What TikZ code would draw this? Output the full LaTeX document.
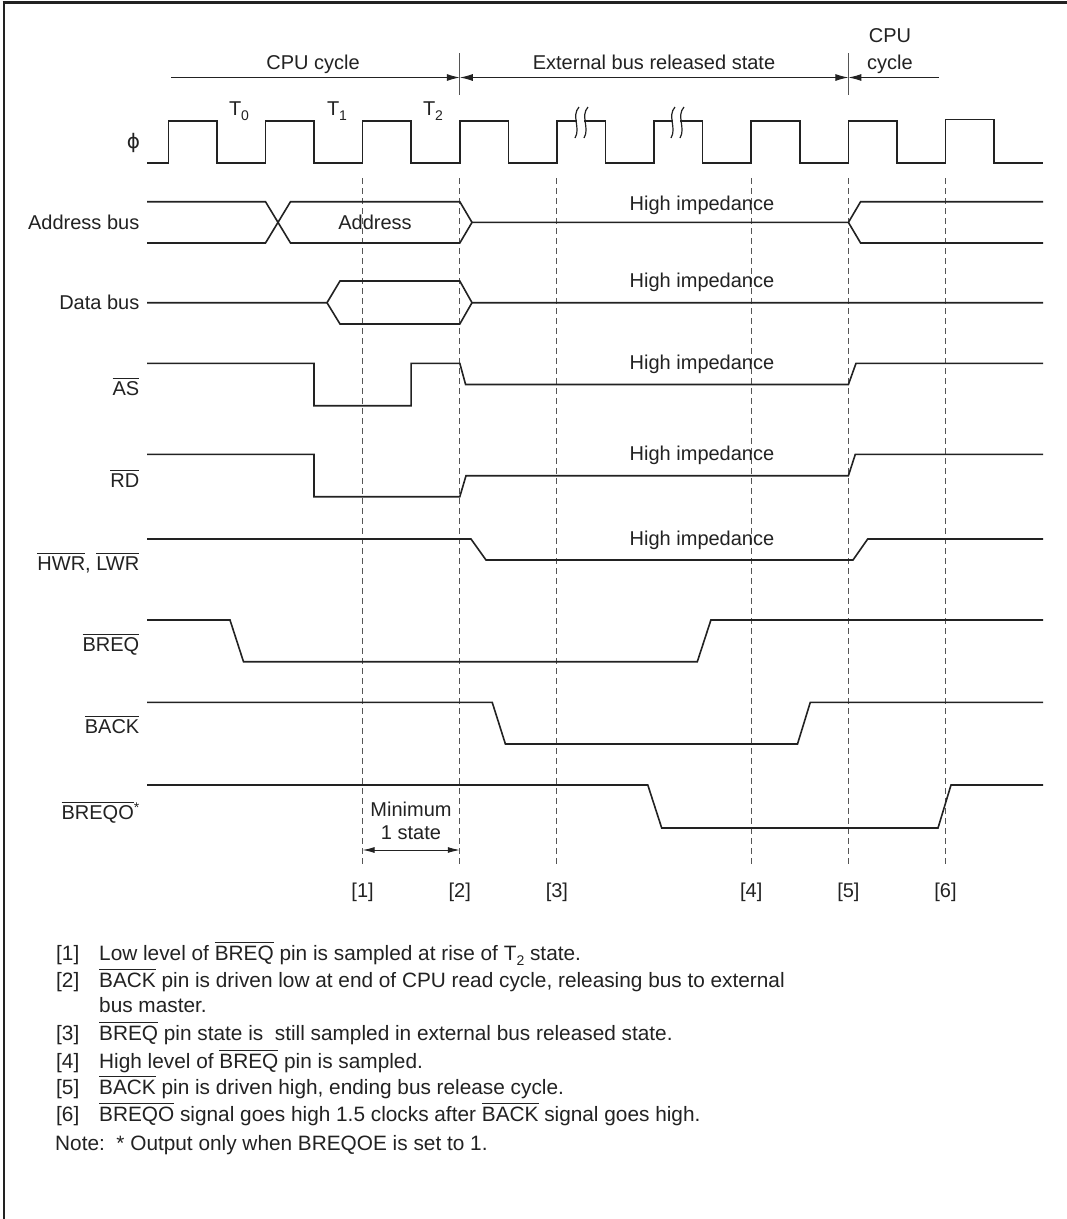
\documentclass[tikz,border=0pt]{standalone}
\usepackage{fontspec}
\setmainfont{Liberation Sans}
\newfontfamily\phifont{DejaVu Sans}
\usetikzlibrary{arrows.meta}
\newcommand{\ovl}[1]{\vbox{\hrule height 1.2pt\kern 2.2pt\hbox{#1}}}
\newcommand{\subs}[1]{\raisebox{-5pt}{\fontsize{14}{14}\selectfont #1}}
\definecolor{ink}{HTML}{222222}
\definecolor{dashc}{HTML}{555555}
\begin{document}
\begin{tikzpicture}[x=1pt,y=-1pt,font=\fontsize{20}{24}\selectfont,
 sig/.style={line width=1.6pt,draw=ink,line join=miter},
 dsh/.style={line width=1pt,draw=dashc,dash pattern=on 6pt off 4pt},
 lbl/.style={anchor=base east,inner sep=0pt,text=ink},
 txt/.style={anchor=base,inner sep=0pt,text=ink},
 lft/.style={anchor=base west,inner sep=0pt,text=ink,font=\fontsize{20.8}{25}\selectfont},
 arr/.style={line width=1pt,draw=ink},
 tickln/.style={line width=1pt,draw=dashc},
 brk/.style={line width=1.2pt,draw=ink}]
\useasboundingbox (0,0) rectangle (1067,1219);
\fill[white] (0,0) rectangle (1067,1219);
% frame
\draw[line width=3pt,ink] (2.5,2.8) -- (1067,2.8);
\draw[line width=2.5pt,ink] (4,1.3) -- (4,1219);

% top phase arrows
\node[txt] (cpu1) at (313,69) {CPU cycle};
\node[txt] (ext) at (654,69) {External bus released state};
\node[txt] (cpu2a) at (890,42) {CPU};
\node[txt] (cpu2b) at (890,69) {cycle};
\draw[tickln] (459.8,53) -- (459.8,95);
\draw[tickln] (848.4,53) -- (848.4,95);
\coordinate (a0) at (171,77.5);
\coordinate (a1) at (459.8,77.5);
\coordinate (a2) at (848.4,77.5);
\coordinate (a3) at (939,77.5);
\draw[arr,-{Latex[length=13pt,width=7pt]}] (a0) -- (a1);
\draw[arr,{Latex[length=13pt,width=7pt]}-{Latex[length=13pt,width=7pt]}] (a1) -- (a2);
\draw[arr,{Latex[length=13pt,width=7pt]}-] (a2) -- (a3);

% T labels and phi
\node[txt] (t0) at (239,115) {T\subs{0}};
\node[txt] (t1) at (337,115) {T\subs{1}};
\node[txt] (t2) at (433,115) {T\subs{2}};
\node[inner sep=0pt,text=ink] (phi) at (133.5,143) {\phifont ϕ};

% dashed reference lines
\foreach \xx/\nm in {362.6/1,459.8/2,556.9/3,751.2/4,848.4/5,945.5/6}{
  \draw[dsh] (\xx,178) -- (\xx,865);
  \node[txt] (m\nm) at (\xx,897) {[\nm]};
}

% clock
\draw[sig] (147,163) -- (168.3,163) -- (168.3,121) -- (216.8,121) -- (216.8,163)
 -- (265.5,163) -- (265.5,121) -- (314.0,121) -- (314.0,163)
 -- (362.6,163) -- (362.6,121) -- (411.1,121) -- (411.1,163)
 -- (459.8,163) -- (459.8,121) -- (508.3,121) -- (508.3,163)
 -- (556.9,163) -- (556.9,121) -- (605.4,121) -- (605.4,163)
 -- (654.1,163) -- (654.1,121) -- (702.6,121) -- (702.6,163)
 -- (751.2,163) -- (751.2,121) -- (799.7,121) -- (799.7,163)
 -- (848.4,163) -- (848.4,121) -- (896.9,121) -- (896.9,163)
 -- (945.5,163) -- (945.5,119.5) -- (994.0,119.5) -- (994.0,163) -- (1043,163);
% break marks
\foreach \bx in {576,672}{
  \fill[white] (\bx+1,117) rectangle (\bx+8,125);
  \draw[brk] (\bx+3,107) .. controls (\bx-5,116) and (\bx+5,128) .. (\bx-1,138);
  \draw[brk] (\bx+12,107) .. controls (\bx+4,116) and (\bx+14,128) .. (\bx+8,138);
}

% signal labels
\node[lbl] (ladr) at (139.5,229) {Address bus};
\node[lbl] (ldat) at (139.5,309.7) {Data bus};
\node[lbl] (las) at (139.5,395) {\ovl{AS}};
\node[lbl] (lrd) at (139.5,487) {\ovl{RD}};
\node[lbl] (lhwr) at (139.5,570) {\ovl{HWR}, \ovl{LWR}};
\node[lbl] (lbreq) at (139.5,651) {\ovl{BREQ}};
\node[lbl] (lback) at (139.5,733) {\ovl{BACK}};
\node[lbl] (lbreqo) at (139.5,819) {\ovl{BREQO}\raisebox{7pt}{\fontsize{14}{14}\selectfont *}};

% address bus
\draw[sig] (147,201.7) -- (265.5,201.7) -- (290.5,243) -- (459.8,243) -- (472,222.4) -- (848.4,222.4) -- (860.6,201.7) -- (1043,201.7);
\draw[sig] (147,243) -- (265.5,243) -- (290.5,201.7) -- (459.8,201.7) -- (472,222.4);
\draw[sig] (848.4,222.4) -- (860.6,243) -- (1043,243);
\node[txt] (adrtxt) at (375,229) {Address};
% data bus
\draw[sig] (147,302.7) -- (327,302.7) -- (340,281) -- (459.8,281) -- (472,302.7) -- (1043,302.7);
\draw[sig] (327,302.7) -- (340,324) -- (459.8,324) -- (472,302.7);
% AS
\draw[sig] (147,363.3) -- (314,363.3) -- (314,405.7) -- (411.1,405.7) -- (411.1,363.3) -- (459.8,363.3) -- (465.6,384.5) -- (848.4,384.5) -- (856,363.3) -- (1043,363.3);
% RD
\draw[sig] (147,454.3) -- (314,454.3) -- (314,496.7) -- (459.8,496.7) -- (466,475.7) -- (848.4,475.7) -- (855.3,454.3) -- (1043,454.3);
% HWR
\draw[sig] (147,539) -- (471,539) -- (486,560) -- (853,560) -- (867.7,539) -- (1043,539);
% BREQ
\draw[sig] (147,620) -- (230,620) -- (243.5,661.7) -- (697.3,661.7) -- (710.9,620) -- (1043,620);
% BACK
\draw[sig] (147,702.3) -- (492.2,702.3) -- (505.4,744) -- (797.5,744) -- (810.3,702.3) -- (1043,702.3);
% BREQO
\draw[sig] (147,785) -- (647.8,785) -- (661.7,828) -- (938,828) -- (951,785) -- (1043,785);

% high impedance labels
\foreach \yy/\nm in {210/a,287/b,369/c,460/d,545/e}{
  \node[txt] (hz\nm) at (702,\yy) {High impedance};
}

% minimum 1 state
\node[txt] (min1) at (411,816) {Minimum};
\node[txt] (min2) at (411,839) {1 state};
\coordinate (ms) at (362.6,850);
\coordinate (me) at (459.8,850);
\draw[arr,{Latex[length=12pt,width=6pt]}-{Latex[length=12pt,width=6pt]}] (ms) -- (me);

% notes
\node[lft] (k1) at (56,960) {[1]};
\node[lft] (n1) at (99,960) {Low level of \ovl{BREQ} pin is sampled at rise of T\subs{2} state.};
\node[lft] (k2) at (56,987) {[2]};
\node[lft] (n2) at (99,987) {\ovl{BACK} pin is driven low at end of CPU read cycle, releasing bus to external};
\node[lft] (n2b) at (99,1012) {bus master.};
\node[lft] (k3) at (56,1040) {[3]};
\node[lft] (n3) at (99,1040) {\ovl{BREQ} pin state is\ \ still sampled in external bus released state.};
\node[lft] (k4) at (56,1068) {[4]};
\node[lft] (n4) at (99,1068) {High level of \ovl{BREQ} pin is sampled.};
\node[lft] (k5) at (56,1094) {[5]};
\node[lft] (n5) at (99,1094) {\ovl{BACK} pin is driven high, ending bus release cycle.};
\node[lft] (k6) at (56,1121) {[6]};
\node[lft] (n6) at (99,1121) {\ovl{BREQO} signal goes high 1.5 clocks after \ovl{BACK} signal goes high.};
\node[lft] (note) at (55,1150) {Note:\ \ * Output only when BREQOE is set to 1.};
\end{tikzpicture}
\end{document}
